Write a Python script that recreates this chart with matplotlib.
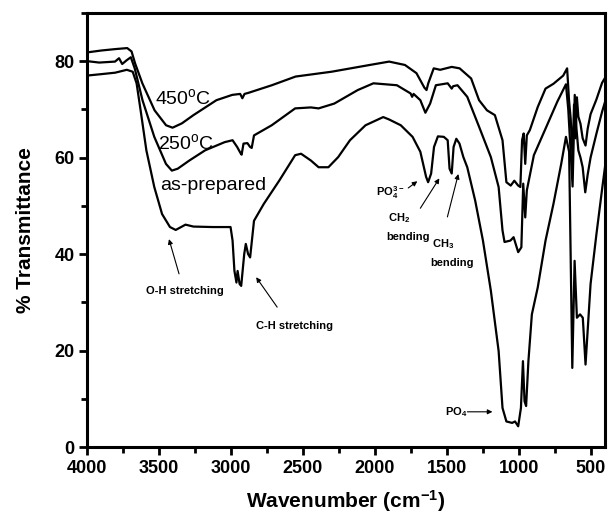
import matplotlib
matplotlib.use('Agg')
import matplotlib.pyplot as plt
from matplotlib.ticker import MultipleLocator

plt.rcParams['font.family'] = ['Liberation Sans', 'DejaVu Sans']
plt.rcParams['mathtext.fontset'] = 'custom'
plt.rcParams['mathtext.rm'] = 'Liberation Sans'
plt.rcParams['mathtext.bf'] = 'Liberation Sans:bold'
plt.rcParams['mathtext.default'] = 'bf'

# (wavenumber cm-1, % transmittance)
spec_450 = [(4000, 81.8), (3900, 82.2), (3800, 82.5), (3720, 82.7), (3690, 82.0), (3665, 79.5),
            (3615, 75.4), (3530, 69.8), (3450, 66.7), (3405, 66.2), (3340, 67.1), (3260, 68.8),
            (3100, 71.9), (2990, 73.0), (2935, 73.2), (2920, 72.3), (2905, 73.2), (2880, 73.4),
            (2715, 75.0), (2550, 76.8), (2300, 77.8), (2035, 79.2), (1900, 79.9), (1790, 79.2),
            (1710, 77.5), (1655, 74.5), (1640, 74.0), (1628, 75.4), (1590, 78.5), (1545, 78.2),
            (1465, 78.8), (1410, 78.5), (1330, 76.4), (1275, 71.9), (1220, 69.8), (1165, 68.8),
            (1112, 63.6), (1085, 54.9), (1055, 54.2), (1030, 55.2), (1003, 54.2), (988, 53.9),
            (976, 63.6), (965, 65.0), (954, 58.7), (943, 64.6), (922, 65.7), (867, 70.5),
            (813, 74.3), (758, 75.3), (690, 77.0), (663, 78.5), (650, 72.0), (638, 68.0),
            (625, 60.0), (615, 71.0), (605, 64.0), (595, 72.5), (585, 68.5), (570, 67.0),
            (555, 64.0), (535, 62.5), (520, 66.0), (500, 69.0), (460, 72.0), (420, 75.5),
            (400, 76.5)]

spec_250 = [(4000, 80.0), (3915, 79.7), (3805, 79.9), (3777, 80.6), (3755, 79.4), (3723, 80.2),
            (3695, 80.8), (3668, 78.5), (3614, 71.9), (3532, 64.3), (3451, 58.7), (3410, 57.3),
            (3369, 57.7), (3288, 59.4), (3179, 61.5), (3043, 63.2), (2988, 63.6), (2956, 62.2),
            (2934, 61.0), (2925, 60.6), (2912, 62.9), (2885, 63.0), (2866, 62.2), (2855, 62.0),
            (2839, 64.6), (2716, 66.7), (2553, 70.2), (2444, 70.4), (2390, 70.2), (2281, 71.2),
            (2118, 74.0), (2009, 75.4), (1846, 75.0), (1751, 73.3), (1740, 72.6), (1730, 73.2),
            (1683, 71.9), (1648, 69.3), (1615, 71.2), (1575, 75.0), (1493, 75.4), (1465, 74.3),
            (1455, 74.8), (1425, 75.0), (1357, 72.6), (1275, 66.4), (1193, 60.1), (1139, 53.9),
            (1112, 44.9), (1098, 42.5), (1057, 42.8), (1035, 43.5), (1003, 40.4), (981, 41.4),
            (968, 54.6), (954, 47.6), (943, 53.2), (894, 60.5), (813, 66.0), (731, 71.6),
            (671, 75.2), (655, 70.0), (640, 62.0), (625, 54.0), (610, 73.0), (598, 66.0),
            (585, 61.5), (570, 60.0), (555, 58.0), (537, 52.8), (520, 56.5), (500, 60.0),
            (459, 65.0), (420, 69.5), (400, 71.5)]

spec_asprep = [(4000, 77.0), (3900, 77.3), (3804, 77.6), (3723, 78.2), (3682, 77.8), (3655, 75.4),
               (3627, 69.8), (3587, 61.5), (3532, 53.9), (3478, 48.3), (3423, 45.6), (3383, 45.0),
               (3315, 46.1), (3260, 45.7), (3124, 45.6), (3002, 45.6), (2988, 42.8), (2975, 36.5),
               (2961, 34.1), (2953, 36.5), (2939, 33.8), (2928, 33.4), (2907, 40.0), (2896, 42.1),
               (2880, 40.0), (2866, 39.3), (2839, 46.9), (2771, 50.4), (2662, 55.3), (2553, 60.5),
               (2512, 60.8), (2444, 59.4), (2390, 58.0), (2322, 58.0), (2254, 60.1), (2172, 63.6),
               (2064, 66.7), (1941, 68.4), (1900, 67.9), (1819, 66.7), (1737, 64.3), (1683, 61.2),
               (1643, 56.0), (1629, 54.9), (1608, 56.7), (1588, 62.2), (1561, 64.4), (1520, 64.3),
               (1493, 63.6), (1480, 57.7), (1465, 56.7), (1452, 62.2), (1433, 63.9), (1411, 62.9),
               (1384, 60.1), (1357, 58.0), (1302, 51.1), (1248, 42.8), (1193, 32.4), (1139, 19.9),
               (1112, 8.1), (1085, 5.3), (1045, 5.0), (1025, 5.3), (1003, 4.3), (984, 8.1),
               (970, 17.8), (959, 9.5), (948, 8.5), (932, 17.8), (908, 27.5), (867, 33.1),
               (813, 42.8), (758, 50.4), (704, 58.7), (671, 64.3), (649, 61.2), (627, 16.4),
               (611, 38.6), (595, 26.8), (573, 27.5), (554, 26.8), (535, 17.1), (500, 33.8),
               (459, 44.2), (418, 53.9), (400, 58.0)]

series = [spec_450, spec_250, spec_asprep]

fig = plt.figure(figsize=(6.08, 5.15), dpi=100)
ax = fig.add_axes([0.143, 0.132, 0.852, 0.843])

for s in series:
    wn, tr = zip(*s)
    ax.plot(wn, tr, color='k', lw=1.6)

ax.set_xlim(4000, 400)
ax.set_ylim(0, 90)
ax.xaxis.set_major_locator(MultipleLocator(500))
ax.xaxis.set_minor_locator(MultipleLocator(250))
ax.yaxis.set_major_locator(MultipleLocator(20))
ax.yaxis.set_minor_locator(MultipleLocator(10))
ax.set_yticks([0, 20, 40, 60, 80])
for sp in ax.spines.values():
    sp.set_linewidth(2.2)
ax.tick_params(which='major', direction='out', length=6, width=2, labelsize=13, pad=3)
ax.tick_params(which='minor', direction='out', length=4, width=2)
for lab in ax.get_xticklabels() + ax.get_yticklabels():
    lab.set_fontweight('bold')

ax.set_xlabel('Wavenumber (cm$^{-1}$)', fontsize=15, fontweight='bold', labelpad=8)
ax.set_ylabel('% Transmittance', fontsize=15, fontweight='bold', labelpad=14)

# curve labels
ax.text(3527, 72.3, '450$^\\mathrm{o}$C', fontsize=14, va='center', ha='left')
ax.text(3506, 63.0, '250$^\\mathrm{o}$C', fontsize=14, va='center', ha='left')
ax.text(3492, 54.3, 'as-prepared', fontsize=14, va='center', ha='left')

# band assignments
small = dict(fontsize=8, fontweight='bold', va='center', ha='left')
arr = dict(arrowstyle='-|>', lw=0.8, color='k', mutation_scale=7, shrinkA=0, shrinkB=0)

ax.text(3318, 32.3, 'O-H stretching', ha='center', va='center', fontsize=8, fontweight='bold')
ax.annotate('', xy=(3430, 43.1), xytext=(3360, 35.9), arrowprops=arr)
ax.text(2560, 25.1, 'C-H stretching', ha='center', va='center', fontsize=8, fontweight='bold')
ax.annotate('', xy=(2824, 35.2), xytext=(2678, 29.0), arrowprops=arr)

ax.text(1990, 52.8, 'PO$_4^{3-}$', **small)
ax.annotate('', xy=(1704, 55.1), xytext=(1767, 53.7), arrowprops=arr)
ax.annotate('', xy=(1551, 55.7), xytext=(1683, 49.5), arrowprops=arr)
ax.annotate('', xy=(1419, 56.6), xytext=(1495, 47.7), arrowprops=arr)
ax.text(1906, 47.5, 'CH$_2$', **small)
ax.text(1920, 43.5, 'bending', **small)
ax.text(1600, 42.1, 'CH$_3$', **small)
ax.text(1613, 38.1, 'bending', **small)

ax.text(1509, 7.3, 'PO$_4$', **small)
ax.annotate('', xy=(1182, 7.3), xytext=(1356, 7.3), arrowprops=arr)

plt.savefig('out.png', dpi=100)
plt.close()
